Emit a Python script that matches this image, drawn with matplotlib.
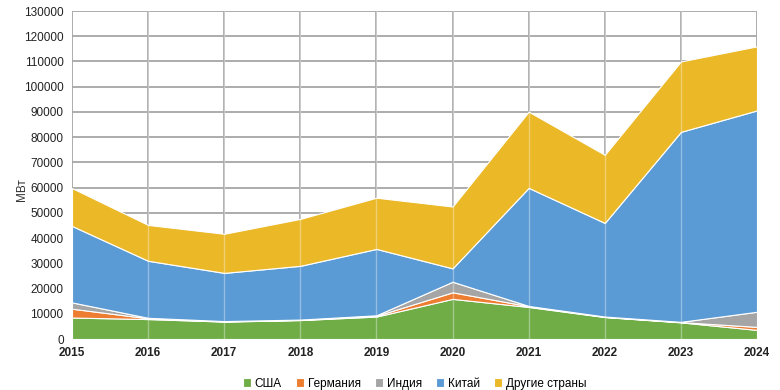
import numpy as np
import matplotlib.pyplot as plt

plt.rcParams['font.family'] = ['Liberation Sans', 'DejaVu Sans']

years = [2015, 2016, 2017, 2018, 2019, 2020, 2021, 2022, 2023, 2024]
usa = [8500, 7900, 6900, 7500, 8900, 15900, 12700, 8700, 6600, 3600]
germany = [3500, 300, 100, 100, 300, 2600, 300, 100, 100, 1200]
india = [2500, 200, 100, 100, 200, 4200, 100, 100, 100, 6000]
china = [30300, 22600, 19100, 21300, 26300, 5300, 46800, 37100, 75300, 79800]
other = [15000, 14200, 15500, 18600, 20300, 24500, 30200, 27000, 27900, 25400]

labels = ['США', 'Германия', 'Индия', 'Китай', 'Другие страны']
colors = ['#70AD47', '#ED7D31', '#A5A5A5', '#5B9BD5', '#EBB828']

fig = plt.figure(figsize=(7.8, 3.9), dpi=100)
ax = fig.add_axes([72 / 780, 51 / 390, 685 / 780, 328 / 390])

ax.stackplot(years, usa, germany, india, china, other, colors=colors,
             labels=labels, edgecolor='white', linewidth=0.8, zorder=2)

ax.set_xlim(2015, 2024)
ax.set_ylim(0, 130000)
ax.set_xticks(years)
ax.set_yticks(np.arange(0, 130001, 10000))
ax.grid(True, color='#a6a6a6', linewidth=1.3, zorder=0)
ax.set_axisbelow(True)
for x in years[1:-1]:
    ax.axvline(x, color='white', alpha=0.35, linewidth=1, zorder=3)

for s in ax.spines.values():
    s.set_visible(False)
ax.axhline(0, color='#a6a6a6', linewidth=1, zorder=1)

ax.tick_params(length=0, pad=6, labelsize=8.5, colors='#222222')
for t in ax.get_xticklabels():
    t.set_fontweight('bold')
fig.text(22 / 780, 1 - 190 / 390, 'МВт', rotation=90, fontsize=8.5,
         color='#333333', ha='center', va='center')

ax.legend(loc='upper center', bbox_to_anchor=(0.5, -0.085), ncol=5,
          frameon=False, fontsize=8.5, handlelength=0.7, handleheight=0.7,
          handletextpad=0.3, columnspacing=1.2)

fig.savefig('out.png', dpi=100)
